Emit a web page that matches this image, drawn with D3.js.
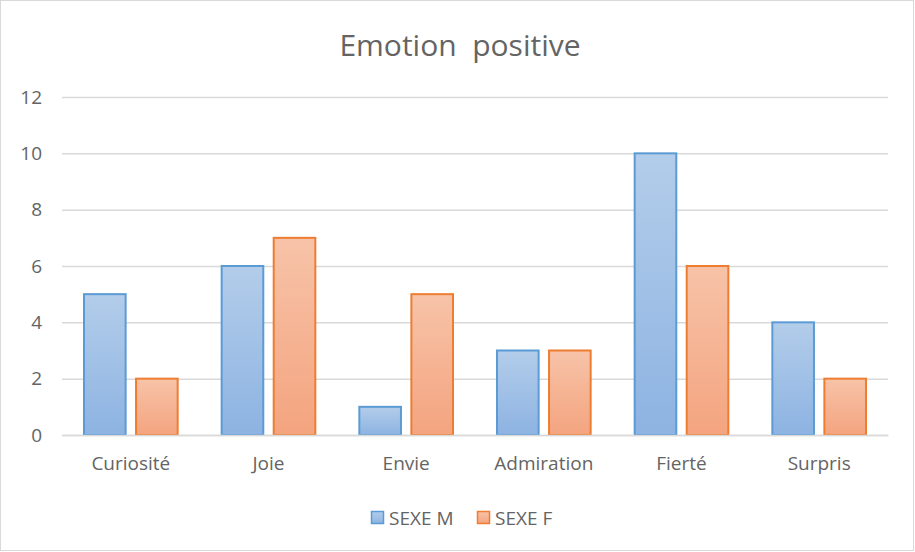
<!DOCTYPE html>
<html>
<head>
<meta charset="utf-8">
<script src="https://cdn.jsdelivr.net/npm/d3@7"></script>
<style>
  body { margin: 0; background: #fff; }
  svg text { font-family: "Open Sans", "Noto Sans", sans-serif; fill: #646464; }
</style>
</head>
<body>
<div id="chart"></div>
<script>
// data
var categories = ["Curiosité", "Joie", "Envie", "Admiration", "Fierté", "Surpris"];
var seriesNames = ["SEXE M", "SEXE F"];
var sexeM = [5, 6, 1, 3, 10, 4];
var sexeF = [2, 7, 5, 3, 6, 2];
var yTicks = [0, 2, 4, 6, 8, 10, 12];

var width = 915, height = 552;
var margin = { top: 97, right: 27, bottom: 117, left: 62 };
var innerW = width - margin.left - margin.right;
var innerH = height - margin.top - margin.bottom;

var colors = {
  "SEXE M": { stroke: "#5b9bd5", top: "#b3cdea", bottom: "#8db3e2" },
  "SEXE F": { stroke: "#ed7d31", top: "#f7c3a8", bottom: "#f4a47f" }
};

var rows = categories.map(function (c, i) {
  return { cat: c, values: [{ key: "SEXE M", v: sexeM[i] }, { key: "SEXE F", v: sexeF[i] }] };
});

var svg = d3.select("#chart").append("svg")
  .attr("width", width)
  .attr("height", height);

// gradients for the bars
var defs = svg.append("defs");
seriesNames.forEach(function (s, i) {
  var g = defs.append("linearGradient")
    .attr("id", "grad" + i)
    .attr("x1", 0).attr("y1", 0).attr("x2", 0).attr("y2", 1);
  g.append("stop").attr("offset", "0%").attr("stop-color", colors[s].top);
  g.append("stop").attr("offset", "100%").attr("stop-color", colors[s].bottom);
});

// outer frame
svg.append("rect")
  .attr("x", 0.5).attr("y", 0.5)
  .attr("width", width - 2).attr("height", height - 2)
  .attr("fill", "#fff")
  .attr("stroke", "#d9d9d9");

svg.append("text")
  .attr("x", 460).attr("y", 56)
  .attr("text-anchor", "middle")
  .style("font-size", "30px")
  .style("white-space", "pre")
  .attr("fill", "#6e6e6e")
  .text("Emotion  positive");

var chart = svg.append("g")
  .attr("transform", `translate(${margin.left}, ${margin.top})`);

var x0 = d3.scaleBand()
  .domain(categories)
  .range([0, innerW]);

var x1 = d3.scaleBand()
  .domain(seriesNames)
  .range([22, x0.bandwidth() - 22])
  .paddingInner(0.2);

var y = d3.scaleLinear()
  .domain([0, 12])
  .range([innerH, 0]);

// grid
var yAxis = chart.append("g")
  .call(d3.axisLeft(y).tickValues(yTicks).tickSize(-innerW).tickPadding(20));
yAxis.select(".domain").remove();
yAxis.selectAll(".tick line").attr("stroke", "#d9d9d9").attr("stroke-width", 1.5);
yAxis.selectAll(".tick text").style("font-size", "19px").attr("fill", "#646464");

// bars
var groups = chart.selectAll(".group")
  .data(rows)
  .join("g")
  .attr("class", "group")
  .attr("transform", function (d) { return `translate(${x0(d.cat)}, 0)`; });

groups.selectAll("rect")
  .data(function (d) { return d.values; })
  .join("rect")
  .attr("x", function (d) { return x1(d.key); })
  .attr("y", function (d) { return y(d.v); })
  .attr("width", x1.bandwidth())
  .attr("height", function (d) { return y(0) - y(d.v); })
  .attr("fill", function (d) { return "url(#grad" + seriesNames.indexOf(d.key) + ")"; })
  .attr("stroke", function (d) { return colors[d.key].stroke; })
  .attr("stroke-width", 2);

// x axis
var xAxis = chart.append("g")
  .attr("transform", `translate(0, ${innerH})`)
  .call(d3.axisBottom(x0).tickSize(0).tickPadding(22));
xAxis.select(".domain").attr("stroke", "#d9d9d9").attr("stroke-width", 1.5);
xAxis.selectAll(".tick text").style("font-size", "19px").attr("fill", "#646464");

// legend
var legendItems = [{ key: "SEXE M", x: 371 }, { key: "SEXE F", x: 477 }];
var legend = svg.append("g").attr("transform", "translate(0, 511)");
legendItems.forEach(function (it, i) {
  legend.append("rect")
    .attr("x", it.x + 0.5).attr("y", 0.5)
    .attr("width", 12).attr("height", 12)
    .attr("fill", "url(#grad" + i + ")")
    .attr("stroke", colors[it.key].stroke)
    .attr("stroke-width", 1.5);
  legend.append("text")
    .attr("x", it.x + 18).attr("y", 14)
    .style("font-size", "19px")
    .text(it.key);
});
</script>
</body>
</html>
